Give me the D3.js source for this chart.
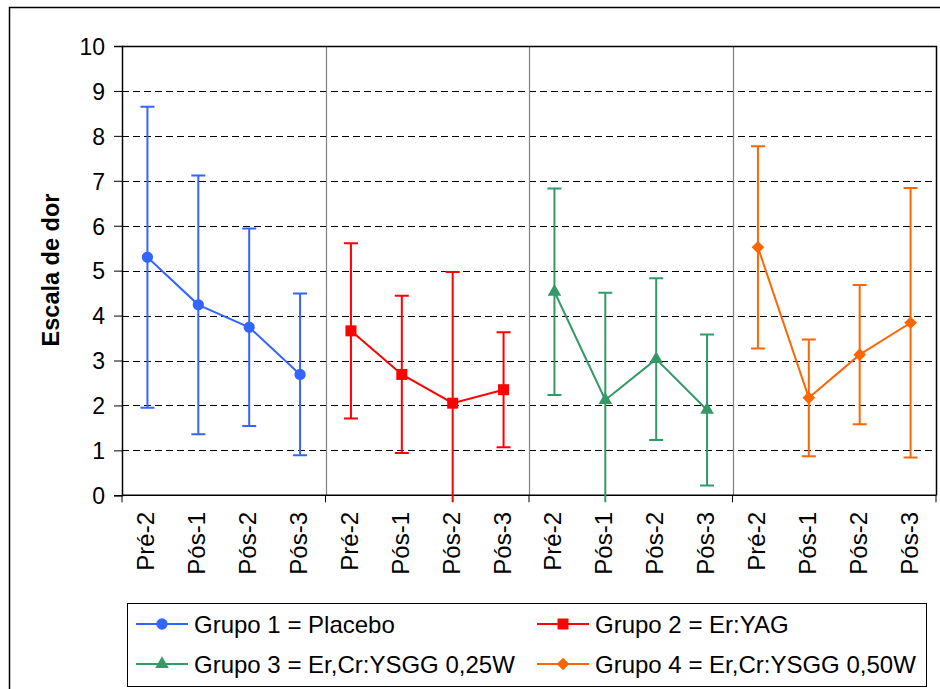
<!DOCTYPE html>
<html>
<head>
<meta charset="utf-8">
<script src="https://cdn.jsdelivr.net/npm/d3@7"></script>
<style>
  body { margin: 0; background: #fff; }
  text { font-family: "Liberation Sans", Arial, sans-serif; fill: #000; }
</style>
</head>
<body>
<div id="chart"></div>
<script>
(function(){
  'use strict';

  // data
  var periods = ['Pré-2', 'Pós-1', 'Pós-2', 'Pós-3'];
  var groupNames = [
    'Grupo 1 = Placebo',
    'Grupo 2 = Er:YAG',
    'Grupo 3 = Er,Cr:YSGG 0,25W',
    'Grupo 4 = Er,Cr:YSGG 0,50W'
  ];
  var g1Mean = [5.30, 4.24, 3.74, 2.69];
  var g1Sd   = [3.35, 2.88, 2.20, 1.80];
  var g2Mean = [3.66, 2.69, 2.05, 2.35];
  var g2Sd   = [1.95, 1.75, 2.92, 1.28];
  var g3Mean = [4.53, 2.12, 3.03, 1.90];
  var g3Sd   = [2.30, 2.39, 1.80, 1.68];
  var g4Mean = [5.52, 2.17, 3.13, 3.84];
  var g4Sd   = [2.25, 1.30, 1.55, 3.00];
  var yTicks = [0, 1, 2, 3, 4, 5, 6, 7, 8, 9, 10];

  var colors = ['#3366ff', '#ff0000', '#339966', '#ff6600'];
  var symbols = ['circle', 'square', 'triangle', 'diamond'];

  var groups = [
    {mean: g1Mean, sd: g1Sd},
    {mean: g2Mean, sd: g2Sd},
    {mean: g3Mean, sd: g3Sd},
    {mean: g4Mean, sd: g4Sd}
  ];

  // one category per group/period pair
  var cats = [];
  groups.forEach(function(g, gi) {
    periods.forEach(function(p, pi) { cats.push(gi * 4 + pi); });
  });

  var W = 940, H = 689,
      left = 122, top = 46, right = 936, bottom = 495.3;

  var svg = d3.select('#chart').append('svg')
    .attr('width', W)
    .attr('height', H);

  // outer chart border
  svg.append('rect')
    .attr('x', 9.5).attr('y', 7.5)
    .attr('width', 960).attr('height', 720)
    .attr('fill', 'none')
    .attr('stroke', '#000')
    .attr('stroke-width', 1.5);

  var x = d3.scaleBand()
    .domain(cats)
    .range([left, right]);

  var y = d3.scaleLinear()
    .domain([0, 10])
    .range([bottom, top]);

  // gridlines
  svg.append('g').selectAll('line')
    .data(yTicks.filter(function(d){ return d > 0 && d < 10; }))
    .enter().append('line')
    .attr('x1', left).attr('x2', right)
    .attr('y1', function(d){ return Math.round(y(d)) + 0.5; })
    .attr('y2', function(d){ return Math.round(y(d)) + 0.5; })
    .attr('stroke', '#000')
    .attr('stroke-dasharray', '7,4');

  // group separators
  svg.append('g').selectAll('line')
    .data([4, 8, 12])
    .enter().append('line')
    .attr('x1', function(d){ return Math.round(x(d)) + 0.5; })
    .attr('x2', function(d){ return Math.round(x(d)) + 0.5; })
    .attr('y1', top).attr('y2', bottom)
    .attr('stroke', '#808080')
    .attr('stroke-width', 1.2);

  // plot border
  svg.append('path')
    .attr('d', 'M' + left + ',' + (top + 0.5) + 'H' + (right + 0.5) + 'V' + bottom)
    .attr('fill', 'none')
    .attr('stroke', '#000')
    .attr('stroke-width', 1.5);

  // y axis
  var yAxis = d3.axisLeft(y)
    .tickValues(yTicks)
    .tickSize(8)
    .tickPadding(9)
    .tickFormat(d3.format('d'));

  var yg = svg.append('g')
    .attr('transform', 'translate(' + left + ',0)')
    .call(yAxis);
  yg.select('.domain').attr('stroke', '#000').attr('stroke-width', 1.5);
  yg.selectAll('.tick line').attr('stroke', '#000');
  yg.selectAll('.tick text')
    .style('font-size', '23px')
    .attr('dy', '0.36em');

  // x axis
  var xg = svg.append('g');
  xg.append('line')
    .attr('x1', left).attr('x2', right + 0.5)
    .attr('y1', bottom).attr('y2', bottom)
    .attr('stroke', '#000').attr('stroke-width', 1.5);
  xg.selectAll('.xtick')
    .data([0, 4, 8, 12, 16])
    .enter().append('line')
    .attr('class', 'xtick')
    .attr('x1', function(d){ return d < 16 ? x(d) : right; })
    .attr('x2', function(d){ return d < 16 ? x(d) : right; })
    .attr('y1', bottom).attr('y2', bottom + 7)
    .attr('stroke', '#000');
  xg.selectAll('.xlabel')
    .data(cats)
    .enter().append('text')
    .attr('class', 'xlabel')
    .attr('transform', function(d) {
      return 'translate(' + (x(d) + x.bandwidth() / 2 + 7) + ',' + 512 + ') rotate(-90)';
    })
    .attr('text-anchor', 'end')
    .style('font-size', '24px')
    .text(function(d){ return periods[d % 4]; });

  // y title
  svg.append('text')
    .attr('transform', 'translate(59,270) rotate(-90)')
    .attr('text-anchor', 'middle')
    .style('font-size', '23.5px')
    .style('font-weight', 'bold')
    .text('Escala de dor');

  // clip so error bars below 0 stop just under the axis
  svg.append('clipPath').attr('id', 'plotclip')
    .append('rect')
    .attr('x', left).attr('y', top)
    .attr('width', right - left).attr('height', bottom - top + 7);

  function symbolPath(kind) {
    if (kind === 'circle') return d3.symbol().type(d3.symbolCircle).size(100)();
    if (kind === 'square') return d3.symbol().type(d3.symbolSquare).size(121)();
    if (kind === 'triangle') return d3.symbol().type(d3.symbolTriangle).size(80)();
    return d3.symbol().type(d3.symbolSquare).size(80)();
  }

  var cx = function(d){ return x(d.cat) + x.bandwidth() / 2; };

  groups.forEach(function(g, gi) {
    var pts = g.mean.map(function(m, pi) {
      return {cat: gi * 4 + pi, mean: m, sd: g.sd[pi]};
    });
    var col = colors[gi];
    var layer = svg.append('g').attr('clip-path', 'url(#plotclip)');

    // error bars
    layer.selectAll('.eb')
      .data(pts)
      .enter().append('line')
      .attr('x1', cx).attr('x2', cx)
      .attr('y1', function(d){ return y(d.mean + d.sd); })
      .attr('y2', function(d){ return y(d.mean - d.sd); })
      .attr('stroke', col).attr('stroke-width', 2);
    layer.selectAll('.capTop')
      .data(pts)
      .enter().append('line')
      .attr('x1', function(d){ return cx(d) - 7; })
      .attr('x2', function(d){ return cx(d) + 7; })
      .attr('y1', function(d){ return y(d.mean + d.sd); })
      .attr('y2', function(d){ return y(d.mean + d.sd); })
      .attr('stroke', col).attr('stroke-width', 2);
    layer.selectAll('.capBot')
      .data(pts.filter(function(d){ return d.mean - d.sd >= 0; }))
      .enter().append('line')
      .attr('x1', function(d){ return cx(d) - 7; })
      .attr('x2', function(d){ return cx(d) + 7; })
      .attr('y1', function(d){ return y(d.mean - d.sd); })
      .attr('y2', function(d){ return y(d.mean - d.sd); })
      .attr('stroke', col).attr('stroke-width', 2);

    // series line
    svg.append('path')
      .datum(pts)
      .attr('d', d3.line().x(cx).y(function(d){ return y(d.mean); }))
      .attr('fill', 'none')
      .attr('stroke', col)
      .attr('stroke-width', 2);

    // markers
    svg.append('g').selectAll('path')
      .data(pts)
      .enter().append('path')
      .attr('d', symbolPath(symbols[gi]))
      .attr('transform', function(d) {
        var t = 'translate(' + cx(d) + ',' + y(d.mean) + ')';
        return symbols[gi] === 'diamond' ? t + ' rotate(45)' : t;
      })
      .attr('fill', col);
  });

  // legend
  var lg = svg.append('g');
  lg.append('rect')
    .attr('x', 127.5).attr('y', 603.5)
    .attr('width', 799).attr('height', 83)
    .attr('fill', '#fff')
    .attr('stroke', '#000')
    .attr('stroke-width', 1);

  var legendPos = [
    {lx: 136, ly: 624}, {lx: 537, ly: 624},
    {lx: 136, ly: 664}, {lx: 537, ly: 664}
  ];
  groupNames.forEach(function(name, gi) {
    var p = legendPos[gi];
    lg.append('line')
      .attr('x1', p.lx).attr('x2', p.lx + 52)
      .attr('y1', p.ly).attr('y2', p.ly)
      .attr('stroke', colors[gi]).attr('stroke-width', 2);
    lg.append('path')
      .attr('d', symbolPath(symbols[gi]))
      .attr('transform', 'translate(' + (p.lx + 26) + ',' + p.ly + ')' +
        (symbols[gi] === 'diamond' ? ' rotate(45)' : ''))
      .attr('fill', colors[gi]);
    lg.append('text')
      .attr('x', p.lx + 58)
      .attr('y', p.ly)
      .attr('dy', '0.36em')
      .style('font-size', '24px')
      .text(name);
  });

}());
</script>
</body>
</html>
